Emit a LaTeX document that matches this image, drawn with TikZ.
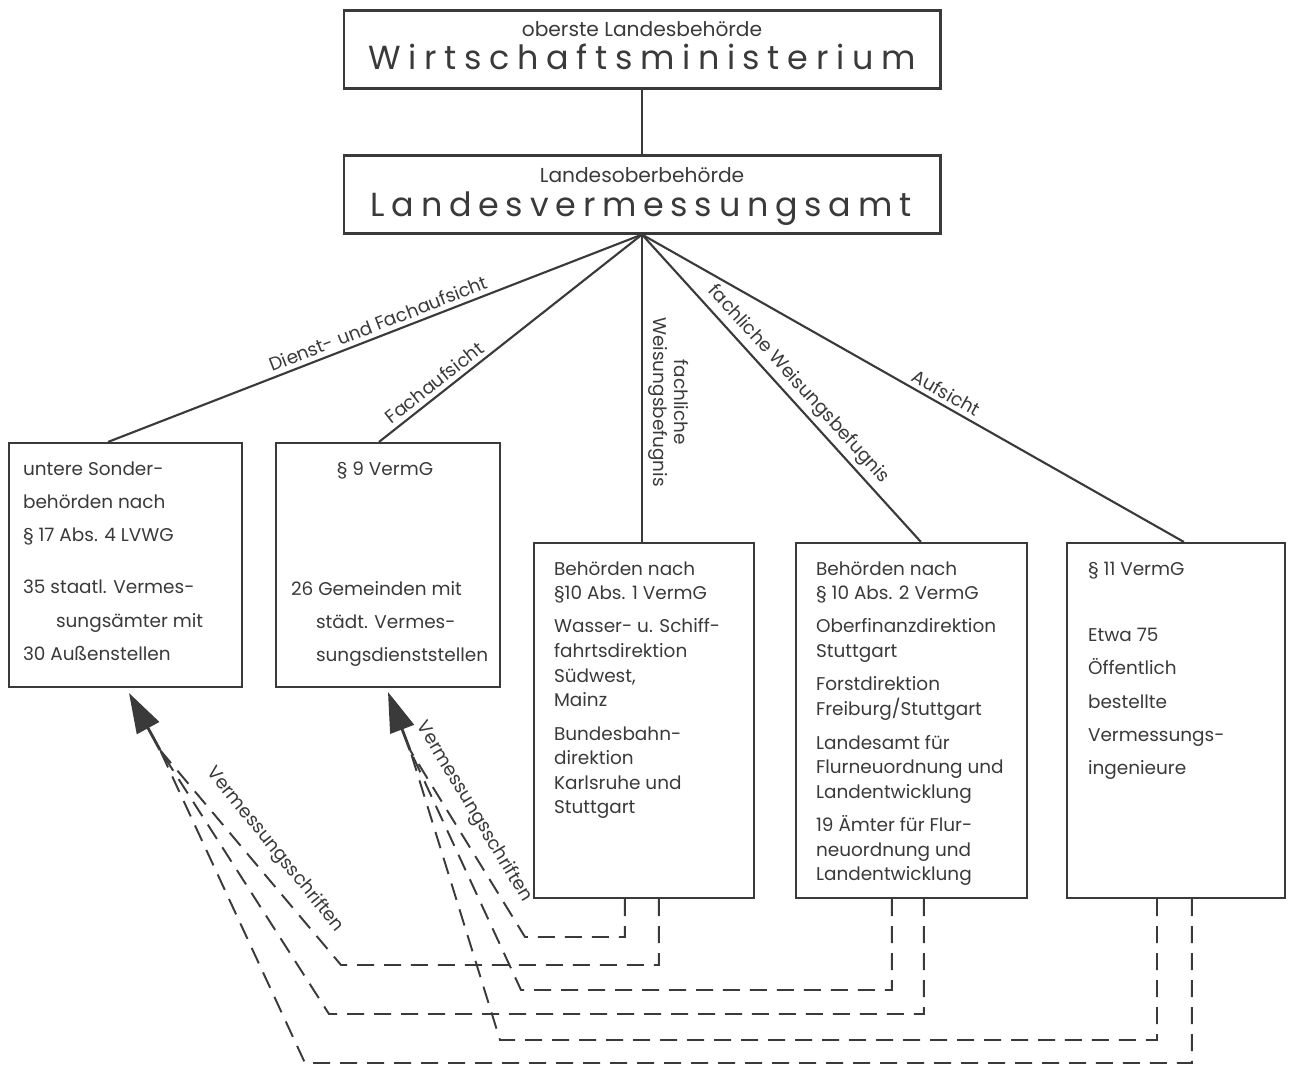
\documentclass[tikz,border=0pt]{standalone}
\usepackage{fontspec}
\setmainfont{Poppins}
\usetikzlibrary{arrows.meta}
\definecolor{ink}{HTML}{3A3A3A}
\ExplSyntaxOn
% set a word letter by letter, stretched evenly to a given width
\NewDocumentCommand\spreadword{mm}{\makebox[#1][s]{\tl_map_inline:nn{#2}{##1\hfil}\unskip}}
\ExplSyntaxOff
% left-aligned block of lines, baseline at the first line
\newcommand\boxlines[2]{{\fontsize{10.5}{#1}\selectfont\begin{tabular}[t]{@{}l@{}}#2\end{tabular}}}

\begin{document}
\begin{tikzpicture}[x=0.02cm, y=-0.02cm, color=ink, line width=1.2pt,
  frame/.style={draw, inner sep=0pt, line width=1.2pt},
  txt/.style={inner sep=0pt},
  lbl/.style={font=\fontsize{10.5}{12}\selectfont, inner sep=2.5pt},
  vdashed/.style={dash pattern=on 0.34cm off 0.2cm, line width=1.1pt},
  bigarrow/.style={-{Triangle[length=0.8cm,width=0.5cm]}, line width=1.6pt}]

\fill[white] (0,0) rectangle (1290,1067);
\useasboundingbox (0,0) rectangle (1290,1067);

% authorities
\node[frame, minimum width=11.94cm, minimum height=1.56cm] (wm) at (642,49.5) {};
\node[frame, minimum width=11.94cm, minimum height=1.56cm] (lsa) at (642,194.5) {};
\node[frame, minimum width=4.66cm, minimum height=4.88cm] (b1) at (125.5,565) {};
\node[frame, minimum width=4.48cm, minimum height=4.88cm] (b2) at (388,565) {};
\node[frame, minimum width=4.40cm, minimum height=7.10cm] (b3) at (644,720.5) {};
\node[frame, minimum width=4.62cm, minimum height=7.10cm] (b4) at (911.5,720.5) {};
\node[frame, minimum width=4.36cm, minimum height=7.10cm] (b5) at (1176,720.5) {};

% headings
\node[txt, anchor=base] (wmsub) at (642,37) {\fontsize{11.5}{13}\selectfont oberste Landesbehörde};
\node[txt, anchor=base] (wmname) at (642,70) {\fontsize{19}{22}\selectfont\spreadword{10.94cm}{Wirtschaftsministerium}};
\node[txt, anchor=base] (lsasub) at (642,183) {\fontsize{11.5}{13}\selectfont Landesoberbehörde};
\node[txt, anchor=base] (lsaname) at (641,217) {\fontsize{19}{22}\selectfont\spreadword{10.82cm}{Landesvermessungsamt}};

% box contents
\node[txt, anchor=base west] (t1) at (22,475) {\boxlines{18.9pt}{untere Sonder-\\behörden nach\\§ 17 Abs. 4 LVWG\\[11pt]35 staatl. Vermes-\\\hspace*{0.66cm}sungsämter mit\\30 Außenstellen}};
\node[txt, anchor=base] (t2a) at (385,475) {\fontsize{10.5}{14}\selectfont § 9 VermG};
\node[txt, anchor=base west] (t2b) at (290,595) {\boxlines{18.9pt}{26 Gemeinden mit\\\hspace*{0.5cm}städt. Vermes-\\\hspace*{0.5cm}sungsdienststellen}};
\node[txt, anchor=base west] (t3) at (553,575) {\boxlines{14pt}{Behörden nach\\§10 Abs. 1 VermG\\[5pt]Wasser- u. Schiff-\\fahrtsdirektion\\Südwest,\\Mainz\\[5pt]Bundesbahn-\\direktion\\Karlsruhe und\\Stuttgart}};
\node[txt, anchor=base west] (t4) at (815,575) {\boxlines{14pt}{Behörden nach\\§ 10 Abs. 2 VermG\\[5pt]Oberfinanzdirektion\\Stuttgart\\[5pt]Forstdirektion\\Freiburg/Stuttgart\\[5pt]Landesamt für\\Flurneuordnung und\\Landentwicklung\\[5pt]19 Ämter für Flur-\\neuordnung und\\Landentwicklung}};
\node[txt, anchor=base west] (t5) at (1087,575) {\boxlines{18.9pt}{§ 11 VermG\\[19pt]Etwa 75\\Öffentlich\\bestellte\\Vermessungs-\\ingenieure}};

% supervision lines
\draw (wm.south) -- (lsa.north);
\draw (lsa.south) -- node[lbl, sloped, above, pos=0.485] {Dienst- und Fachaufsicht} ([xshift=2.0cm]b1.north west);
\draw (lsa.south) -- node[lbl, sloped, above, pos=0.76] {Fachaufsicht} ([xshift=2.08cm]b2.north west);
\draw (lsa.south) -- node[lbl, pos=0.545, rotate=-90, anchor=south, align=center, inner sep=3pt] {fachliche\\Weisungsbefugnis} (lsa.south |- b3.north);
\draw (lsa.south) -- node[lbl, sloped, above, pos=0.52] {fachliche Weisungsbefugnis} ([xshift=2.52cm]b4.north west);
\draw (lsa.south) -- node[lbl, sloped, above, pos=0.55] {Aufsicht} ([xshift=2.36cm]b5.north west);

% survey documents flowing back
\coordinate (tailA) at (160,750);
\coordinate (headA) at (129,693);
\coordinate (tailB) at (410,750);
\coordinate (headB) at (388,692);
\draw[bigarrow] (tailA) -- (headA);
\draw[bigarrow] (tailB) -- (headB);

\draw[vdashed] ([xshift=1.84cm]b3.south west) |- (525,937) -- (tailB);
\draw[vdashed] ([xshift=2.52cm]b3.south west) |- (341,965) -- (tailA);
\draw[vdashed] ([xshift=1.94cm]b4.south west) |- (521,990) -- (tailB);
\draw[vdashed] ([xshift=2.58cm]b4.south west) |- (329,1014) -- (tailA);
\draw[vdashed] ([xshift=1.82cm]b5.south west) |- (500,1040) -- (tailB);
\draw[vdashed] ([xshift=2.52cm]b5.south west) |- (305,1063) -- (tailA);

\node[lbl, rotate=-51] (vsA) at (275,850) {Vermessungsschriften};
\node[lbl, rotate=-59] (vsB) at (474,812) {Vermessungsschriften};
\end{tikzpicture}
\end{document}
